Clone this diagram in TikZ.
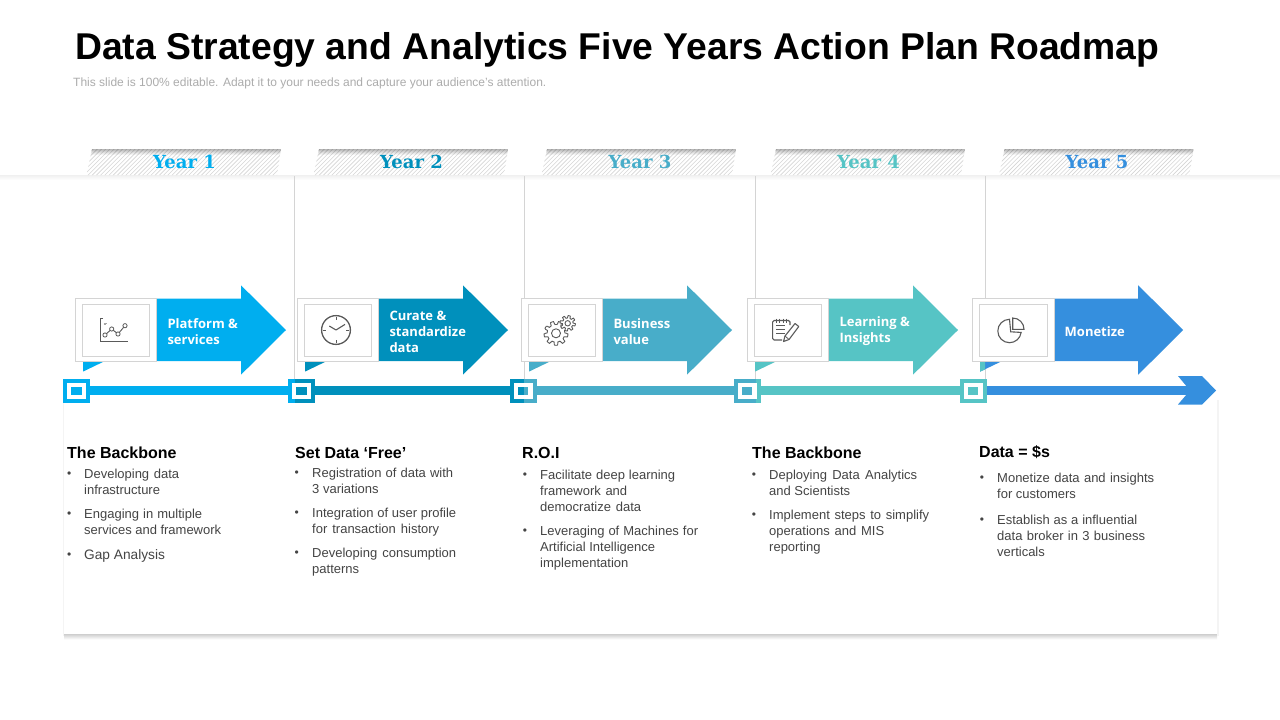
\documentclass[tikz,border=0pt]{standalone}
\usepackage{fontspec}
\setmainfont{Liberation Sans}
\newfontfamily\slabfont{DejaVu Serif}
\newfontfamily\labfont{Open Sans}
\definecolor{cA}{HTML}{00AEEF}
\definecolor{cB}{HTML}{0090BC}
\definecolor{cC}{HTML}{48ADC9}
\definecolor{cD}{HTML}{56C4C5}
\definecolor{cE}{HTML}{358FDE}
\definecolor{gline}{HTML}{D4D4D4}
\definecolor{bodyc}{HTML}{444444}
\definecolor{iconc}{HTML}{5A5A5A}
\tikzset{
 x=1pt,y=-1pt,
 bodytxt/.style={anchor=north west,inner sep=0pt,align=left,font=\fontsize{13}{16}\selectfont,text=bodyc},
 bullettxt/.style={inner sep=0pt,font=\fontsize{12}{12}\selectfont,text=bodyc},
 head/.style={anchor=west,inner sep=0pt,font=\bfseries\fontsize{16}{18}\selectfont,text=black},
 yeartxt/.style={inner sep=0pt,font=\slabfont\bfseries\fontsize{18}{22}\selectfont},
 lab/.style={anchor=west,inner sep=0pt,align=left,text=white,font=\labfont\bfseries\fontsize{13}{16}\selectfont},
 vline/.style={draw=gline,line width=0.8pt},
 boxo/.style={draw=gline,fill=white,line width=0.9pt},
 icon/.style={draw=iconc,line width=1.1pt},
}
\newcommand{\J}[2]{\makebox[#1pt][s]{\strut #2}}
\newcommand{\It}[5]{% name, bullet x, text x, y of first line, lines
 \node[bullettxt] (b#1) at (#2,#4+1.8) {•};
 \node[bodytxt] (t#1) at (#3,#4-6.2) {#5};}
\newcommand{\tab}[4]{% x offset, colour, text, text x
 \begin{scope}[shift={(#1,0)}]
  \begin{scope}
   \clip (92,149) -- (281,149) -- (277,175) -- (86.5,175) -- cycle;
   \foreach \k in {0,4.2,...,240}{\draw[gray!33,line width=0.6pt] (\k+60,178) -- (\k+95,143);}
   \foreach \s/\o in {0/.28,1/.24,2/.18,3/.13,4/.08,5/.04}{\fill[black,opacity=\o] (86,149+\s) rectangle (282,150+\s);}
  \end{scope}
 \end{scope}
 \node[yeartxt,text=#2] (y#3) at (#4,162) {Year #3};}
\newcommand{\arrowunit}[4]{% offset colour name text
 \begin{scope}[shift={(#1,0)}]
  \fill[#2] (83,360) -- (83,371.6) -- (105,361) -- cycle;
  \fill[#2] (157,298.5) -- (241,298.5) -- (241,285.3) -- (286,330) -- (241,374.7) -- (241,361) -- (157,361) -- cycle;
  \draw[boxo] (75.4,298.4) rectangle (156.8,361);
  \draw[boxo] (82.4,304.2) rectangle (149.8,356.8);
  \node[lab] (l#3) at (167.3,331.5) {#4};
 \end{scope}}
\begin{document}
\begin{tikzpicture}
\useasboundingbox (0,0) rectangle (1280,720);
\fill[white] (0,0) rectangle (1280,720);
% card shadow
\fill[top color=gray!38,bottom color=white] (64,634) rectangle (1217,639.5);
\fill[gray!9] (62.7,400) rectangle (64,636);
\fill[gray!9] (1217,400) rectangle (1218.6,636);
\fill[white] (64,176) rectangle (1217,634);
% header band
\fill[top color=gray!12,bottom color=white] (0,175) rectangle (1280,180);
% title
\node[anchor=west,inner sep=0pt,font=\bfseries\fontsize{37.3}{44}\selectfont] (title) at (75,50) {Data Strategy and Analytics Five Years Action Plan Roadmap};
\node[anchor=west,inner sep=0pt,font=\fontsize{12}{14}\selectfont,text=gray!65] (sub) at (73,83) {This slide is 100\% editable. Adapt it to your needs and capture your audience's attention.};
% tabs
\tab{0}{cA}{1}{184.5}\tab{227}{cB}{2}{411.5}\tab{455}{cC}{3}{640}\tab{684}{cD}{4}{868.5}\tab{912.5}{cE}{5}{1097}
% separators
\coordinate (v1t) at (294.6,176);\coordinate (v1b) at (294.6,390);
\coordinate (v2t) at (524,176);\coordinate (v2b) at (524,390);
\coordinate (v3t) at (755.6,176);\coordinate (v3b) at (755.6,390);
\coordinate (v4t) at (985.3,176);\coordinate (v4b) at (985.3,390);
\draw[vline] (v1t)--(v1b); \draw[vline] (v2t)--(v2b); \draw[vline] (v3t)--(v3b); \draw[vline] (v4t)--(v4b);
% arrows
\arrowunit{0}{cA}{a}{Platform \&\\services}
\arrowunit{222}{cB}{b}{Curate \&\\standardize\\data}
\arrowunit{446}{cC}{c}{Business\\value}
\arrowunit{672}{cD}{d}{Learning \&\\Insights}
\arrowunit{897.2}{cE}{e}{Monetize}
\fill[cD] (980.2,362) -- (980.2,371.6) -- (985,369.4) -- (985,362) -- cycle;
% timeline
\fill[cA] (76,386) rectangle (295,395);
\fill[cB] (295,386) rectangle (524,395);
\fill[cC] (524,386) rectangle (755.5,395);
\fill[cD] (755.5,386) rectangle (985,395);
\fill[cE] (985,386) rectangle (1192,395);
\fill[cE] (1178,376) -- (1202,376) -- (1216,390.5) -- (1202,404.5) -- (1178,404.5) -- (1190,390.5) -- cycle;
% squares
\fill[cA] (63.3,379.3) rectangle (90,402.7);
\fill[white] (67.3,382.7) rectangle (86,399);
\fill[cA] (71,386.5) rectangle (81.7,395.2);
\fill[cA] (288.3,379.3) rectangle (295,402.7);
\fill[cB] (295,379.3) rectangle (315,402.7);
\fill[white] (292.3,382.7) rectangle (311,399);
\fill[cB] (296,386.5) rectangle (306.7,395.2);
\fill[cB] (510,379.3) rectangle (523.5,402.7);
\fill[cC] (523.5,379.3) rectangle (536.7,402.7);
\fill[white] (514,382.7) rectangle (532.7,399);
\fill[cB] (517.7,386.5) rectangle (523.5,395.2);
\fill[cC] (523.5,386.5) rectangle (528.3,395.2);
\fill[cC] (734,379.3) rectangle (755.5,402.7);
\fill[cD] (755.5,379.3) rectangle (760.7,402.7);
\fill[white] (738,382.7) rectangle (756.7,399);
\fill[cC] (741.7,386.5) rectangle (752.4,395.2);
\fill[cD] (960,379.3) rectangle (986.7,402.7);
\fill[white] (964,382.7) rectangle (982.7,399);
\fill[cD] (967.7,386.5) rectangle (978.4,395.2);
% icon 1
\draw[icon,line width=.9pt] (103,318.5) -- (100.5,318.5) -- (100.5,341.7) -- (127,341.7) -- (127,340.5);
\draw[gray!70,line width=.6pt] (103.5,322.8) -- (107,322.8) (103.5,324.3) -- (106,324.3);
\draw[icon,line width=.9pt] (105,335) -- (111.7,329) -- (118,334) -- (125,325.7);
\foreach \p in {(105,335),(111.7,329),(118,334),(125,325.7)}{\filldraw[fill=white,draw=iconc,line width=.8pt] \p circle (2.1);}
% icon 2
\draw[icon,line width=1.3pt] (336,330) circle (14.4);
\draw[icon] (336,330) -- (329.3,326); \draw[icon] (336,330) -- (345,324.4);
\foreach \a in {0,90,180,270}{\draw[icon,line width=.8pt] (336,330) ++(\a:12.8) -- ++(\a:-2.4);}
% icon 3 gears
\draw[icon,line width=.9pt] plot[domain=0:360,samples=121] ({556+(10.4+1.6*max(-1,min(1,3*sin(9*\x))))*cos(\x)},{333.3+(10.4+1.6*max(-1,min(1,3*sin(9*\x))))*sin(\x)}) -- cycle;
\draw[icon,line width=.9pt] (556,333.3) circle (4.5);
\draw[icon,line width=.9pt,fill=white] plot[domain=0:360,samples=121] ({567.7+(6.5+1.2*max(-1,min(1,3*sin(8*\x))))*cos(\x)},{323.3+(6.5+1.2*max(-1,min(1,3*sin(8*\x))))*sin(\x)}) -- cycle;
\draw[icon,line width=.9pt] (567.7,323.3) circle (2.7);
% icon 4
\draw[icon,rounded corners=1.5pt] (790,325) -- (790,320.5) -- (772.6,320.5) -- (772.6,340) -- (782,340);
\foreach \xx in {776,779.5,783,786.5}{\draw[icon,line width=.8pt] (\xx,318.5) -- (\xx,322.5);}
\foreach \yy in {325.5,329.5,333.5}{\draw[icon,line width=.9pt] (776,\yy) -- (785,\yy);}
\draw[icon,line join=round,fill=white] (783.5,341.5) -- (785,336) -- (795,323.5) -- (798.8,326.5) -- (789,339.5) -- cycle;
\draw[icon,line width=.8pt] (785,336) -- (789,339.5);
% icon 5
\draw[icon] (1009.5,319.3) arc[start angle=90,end angle=353,radius=11.7pt] -- (1010.7,331.8) -- cycle;
\draw[icon] (1012.7,329.3) -- (1012.7,318) arc[start angle=90,end angle=0,radius=11.3pt] -- cycle;
% headings
\node[head] (h1) at (67,452.5) {The Backbone};
\node[head] (h2) at (295,452.5) {Set Data ‘Free’};
\node[head] (h3) at (522,452.5) {R.O.I};
\node[head] (h4) at (752,452.5) {The Backbone};
\node[head] (h5) at (979,452.5) {Data = \$s};
% column 1
\It{a1}{69.3}{84}{473}{\J{95}{Developing data}\\\strut infrastructure}
\It{a2}{69.3}{84}{513}{\J{118}{Engaging in multiple}\\\J{137}{services and framework}}
\It{a3}{69.3}{84}{554}{\fontsize{13.7}{16}\selectfont\strut Gap Analysis}
% column 2
\It{b1}{296.7}{312}{472}{\J{141}{Registration of data with}\\\strut 3 variations}
\It{b2}{296.7}{312}{512}{\J{144}{Integration of user profile}\\\J{127}{for transaction history}}
\It{b3}{296.7}{312}{552}{\J{144}{Developing consumption}\\\strut patterns}
% column 3
\It{c1}{525}{540}{474}{\J{135}{Facilitate deep learning}\\\J{87}{framework and}\\\J{101}{democratize data}}
\It{c2}{525}{540}{530}{\J{158}{Leveraging of Machines for}\\\strut Artificial Intelligence\\\strut implementation}
% column 4
\It{d1}{754}{769}{474}{\J{148}{Deploying Data Analytics}\\\strut and Scientists}
\It{d2}{754}{769}{514}{\J{160}{Implement steps to simplify}\\\J{115}{operations and MIS}\\\strut reporting}
% column 5
\It{e1}{982}{997}{477}{\J{157}{Monetize data and insights}\\\strut for customers}
\It{e2}{982}{997}{519}{\J{140}{Establish as a influential}\\\J{148}{data broker in 3 business}\\\strut verticals}
\end{tikzpicture}
\end{document}
